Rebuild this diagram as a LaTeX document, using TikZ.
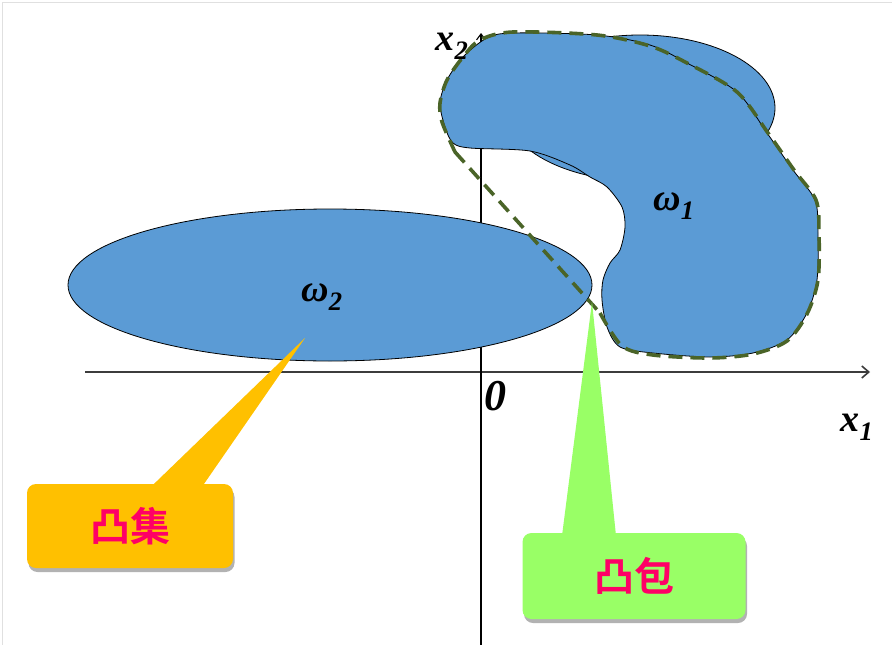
\documentclass[tikz,border=0pt]{standalone}
\usepackage{fontspec}
\setmainfont{Liberation Serif}
\newfontfamily\cjkfont{Noto Sans CJK SC Bold}
\usetikzlibrary{arrows.meta,shadows}
\definecolor{RegionBlue}{HTML}{5B9BD5}
\definecolor{HullGreen}{HTML}{4A6428}
\definecolor{SetGold}{HTML}{FFC000}
\definecolor{HullLime}{HTML}{99FF66}
\definecolor{LabelRose}{HTML}{FF0066}
\definecolor{AxisGray}{HTML}{3C3C3C}

\begin{document}
\begin{tikzpicture}[
  x=1pt, y=-1pt,
  region/.style={draw=black, line width=0.8pt, fill=RegionBlue},
  hullline/.style={draw=HullGreen, line width=3.6pt, dash pattern=on 14pt off 8pt},
  axisline/.style={draw=AxisGray, line width=1.6pt, -{Straight Barb[length=7pt,width=12pt]}},
  mathlabel/.style={font=\fontsize{38}{42}\selectfont\bfseries\itshape, inner sep=0pt},
  calloutbox/.style={rounded corners=9pt, inner sep=0pt,
    font=\cjkfont\fontsize{40}{44}\selectfont, text=LabelRose,
    drop shadow={shadow xshift=1.5pt, shadow yshift=-4pt, fill=black, opacity=0.3}},
  setbox/.style={calloutbox, fill=SetGold, minimum width=206pt, minimum height=84pt},
  hullbox/.style={calloutbox, fill=HullLime, minimum width=223pt, minimum height=86pt}
]
\useasboundingbox (0,0) rectangle (892,645);
\fill[white] (0,0) rectangle (892,645);
\draw[black!12, line width=1pt] (2,645) -- (2,2) -- (892,2);

\draw[axisline] (85,372) -- (870,372);
\draw[line width=1.1pt, -{Straight Barb[length=6pt,width=9pt]}] (481,645) -- (481,33);

\draw[region] (330,285) ellipse [x radius=262pt, y radius=76pt];
\draw[region] (640,108) ellipse [x radius=135pt, y radius=73pt];
\draw[region] plot[smooth cycle, tension=0.5] coordinates {
  (487,38) (513,33) (597,35) (650,45) (687,63) (737,92) (767,133)
  (793,170) (815,200) (818,233) (817,280) (807,313) (787,340)
  (753,353) (710,357) (653,353) (620,347) (607,327) (602,300)
  (603,280) (610,263) (620,250) (625,227) (622,207) (607,187)
  (590,177) (570,165) (530,151) (470,148) (453,143) (445,127)
  (440,103) (447,80) (463,57)};

\draw[hullline] (455,152) -- (600,313) plot[smooth, tension=0.5] coordinates {
  (600,313) (622,346) (653,355) (710,358) (753,354) (787,341)
  (807,314) (818,280) (819,233) (816,200) (794,170) (768,133)
  (737,92) (687,63) (650,46) (597,35) (513,32) (480,40)
  (463,57) (447,80) (440,103) (442,122) (455,152)};

\node[mathlabel] (xtwo) at (452,46) {x\textsubscript{2}};
\node[mathlabel] (xone) at (857,427) {x\textsubscript{1}};
\node[mathlabel, font=\fontsize{44}{48}\selectfont\bfseries\itshape] (zero) at (495,396) {0};
\node[mathlabel] (omegaone) at (674,206) {ω\textsubscript{1}};
\node[mathlabel] (omegatwo) at (322,297) {ω\textsubscript{2}};

\node[setbox] (setnote) at (130,526) {凸集};
\coordinate (settip) at (305,338);
\fill[SetGold] ([xshift=21pt,yshift=-3pt]setnote.north) -- (settip) -- ([xshift=72pt,yshift=-3pt]setnote.north) -- cycle;

\node[hullbox] (hullnote) at (634,576) {凸包};
\coordinate (hulltip) at (592,302);
\fill[HullLime] ([xshift=-72pt,yshift=-3pt]hullnote.north) -- (hulltip) -- ([xshift=-18pt,yshift=-3pt]hullnote.north) -- cycle;
\end{tikzpicture}
\end{document}
